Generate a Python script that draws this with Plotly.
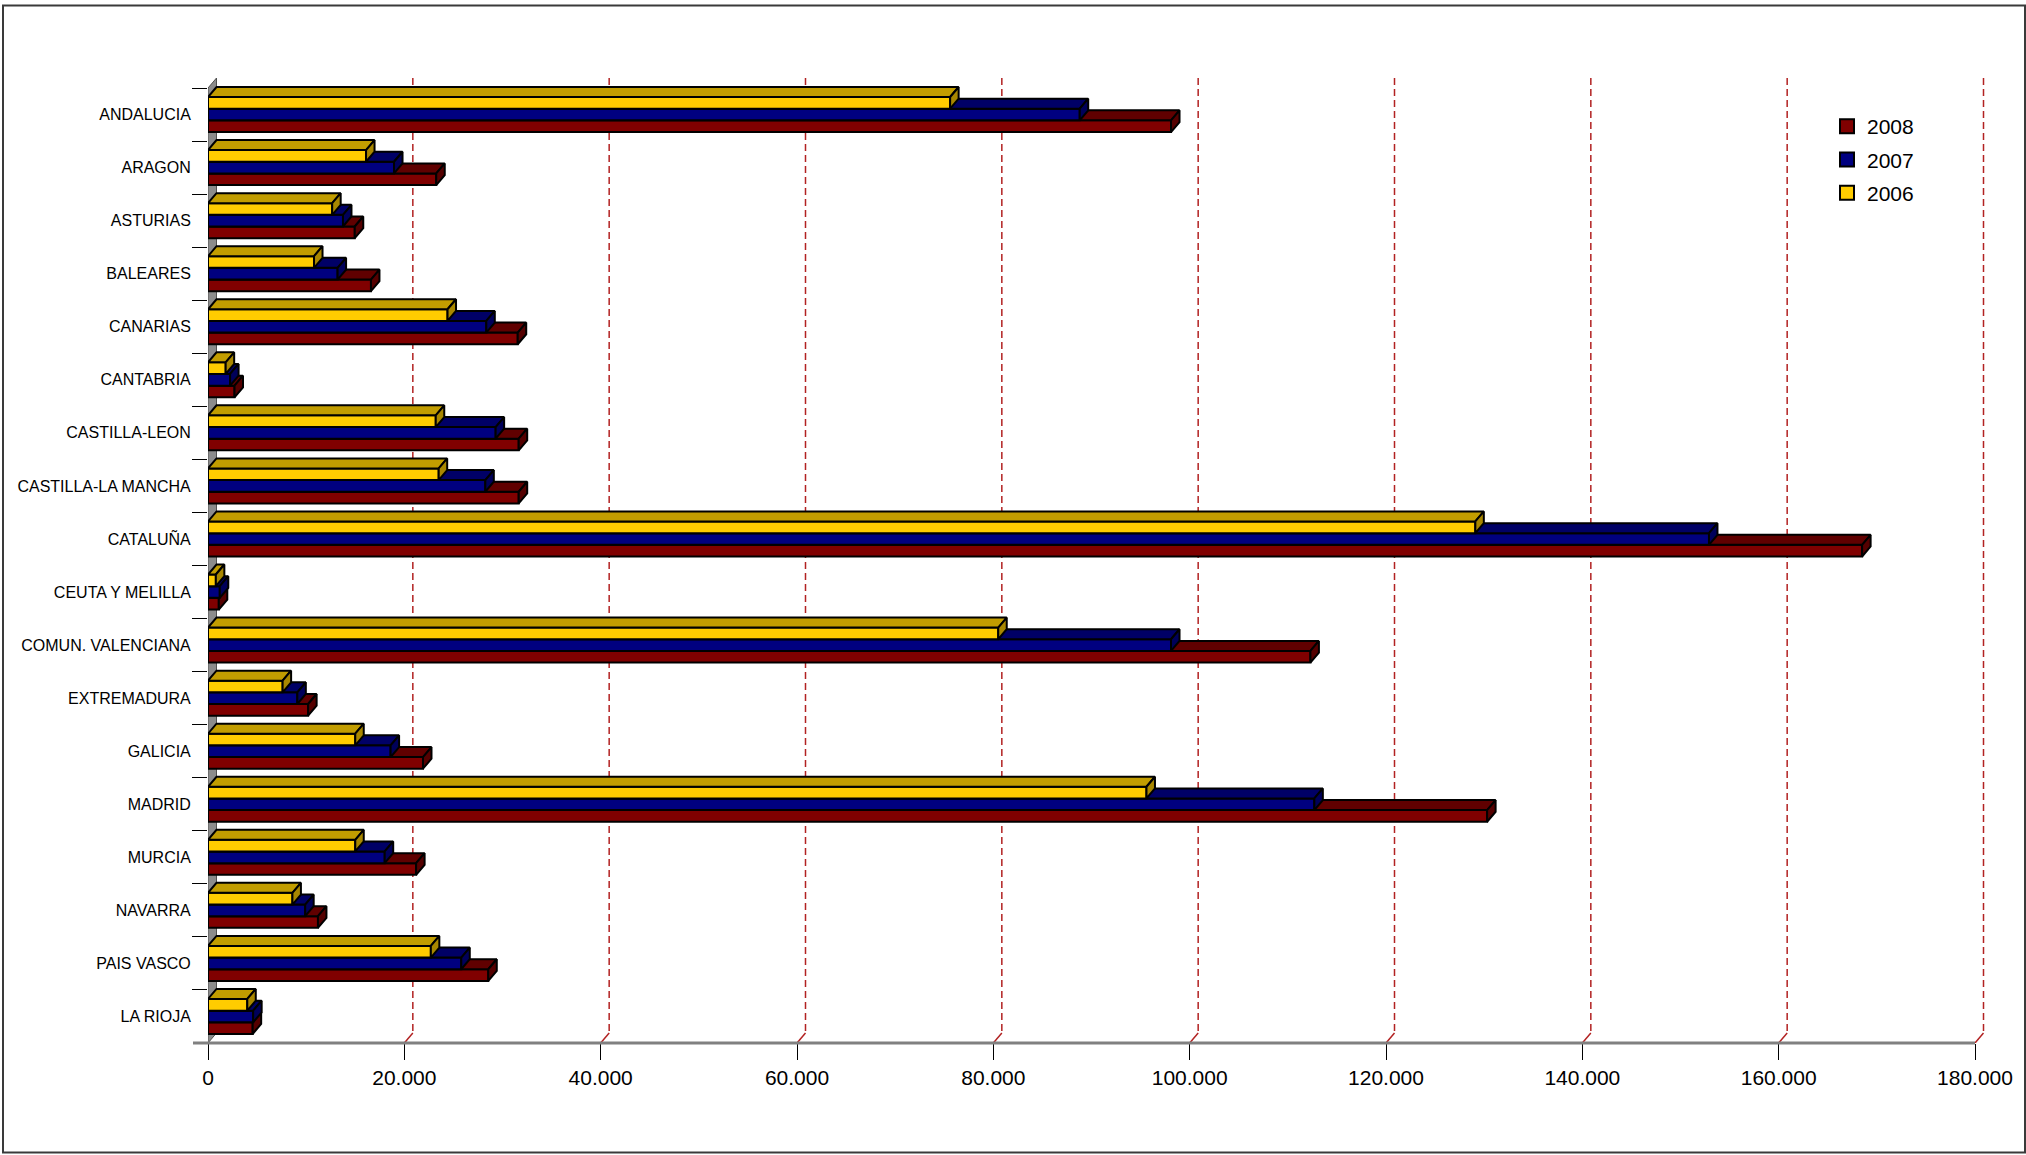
import plotly.graph_objects as go

# ---------------- data ----------------
categories = ["ANDALUCIA", "ARAGON", "ASTURIAS", "BALEARES", "CANARIAS", "CANTABRIA",
              "CASTILLA-LEON", "CASTILLA-LA MANCHA", "CATALUÑA", "CEUTA Y MELILLA",
              "COMUN. VALENCIANA", "EXTREMADURA", "GALICIA", "MADRID", "MURCIA",
              "NAVARRA", "PAIS VASCO", "LA RIOJA"]
years = ["2008", "2007", "2006"]
v2006 = [75600, 16100, 12650, 10800, 24400, 1800, 23200, 23500, 129100, 800,
         80500, 7600, 15000, 95600, 15000, 8600, 22700, 4000]
v2007 = [88800, 18950, 13750, 13200, 28350, 2250, 29300, 28250, 152900, 1200,
         98100, 9100, 18600, 112700, 18000, 9900, 25800, 4600]
v2008 = [98100, 23250, 14950, 16600, 31550, 2700, 31650, 31650, 168500, 1100,
         112300, 10200, 21900, 130300, 21200, 11200, 28550, 4550]
x_tick_values = [0, 20000, 40000, 60000, 80000, 100000, 120000, 140000, 160000, 180000]
x_tick_labels = ["0", "20.000", "40.000", "60.000", "80.000", "100.000",
                 "120.000", "140.000", "160.000", "180.000"]

# ---------------- geometry / style ----------------
W, H = 2026, 1155
PL, PR, PT, PB = 208, 1992, 78, 1043          # plot area in pixels
X_END_PX = 1975                               # pixel of last tick
N = len(categories)
px_per_x = (X_END_PX - PL) / x_tick_values[-1]
DX = 8.5 / px_per_x                           # 3D depth, x units
depth_px = 10.0
px_per_y = (PB - PT - depth_px) / N
DY = depth_px / px_per_y                      # 3D depth, category units
X_RANGE_MAX = (PR - PL) / px_per_x
BAR_H = 0.22


def paper_x(px):
    return (px - PL) / (PR - PL)


def paper_y(py):
    return (PB - py) / (PB - PT)


FONT = "Arial, Liberation Sans, sans-serif"

series = [  # drawn back to front: red, blue, yellow
    (v2008, +0.22, "#800000", "#600000", "#550000"),
    (v2007, 0.0, "#000080", "#000066", "#00005A"),
    (v2006, -0.22, "#FFCC00", "#C29D00", "#A88700"),
]

fig = go.Figure()

# left wall
fig.add_trace(go.Scatter(
    x=[0, 0, DX, DX, 0],
    y=[N - 0.5, -0.5, -0.5 - DY, N - 0.5 - DY, N - 0.5],
    mode="lines", fill="toself", fillcolor="#8C8C8C",
    line=dict(color="#505050", width=1), hoverinfo="skip", showlegend=False))

# gridlines on back wall (dashed) and on floor (slanted)
gx, gy, fx, fy = [], [], [], []
for t in x_tick_values[1:]:
    gx += [t + DX, t + DX, None]
    gy += [-0.5 - DY, N - 0.5 - DY, None]
    fx += [t, t + DX, None]
    fy += [N - 0.5, N - 0.5 - DY, None]
fig.add_trace(go.Scatter(x=gx, y=gy, mode="lines",
                         line=dict(color="#B22222", width=1.5, dash="7px,4px"),
                         hoverinfo="skip", showlegend=False))
fig.add_trace(go.Scatter(x=fx, y=fy, mode="lines",
                         line=dict(color="#B22222", width=1.5),
                         hoverinfo="skip", showlegend=False))


def poly_trace(xs, ys, color):
    return go.Scatter(x=xs, y=ys, mode="lines", fill="toself", fillcolor=color,
                      line=dict(color="black", width=2),
                      hoverinfo="skip", showlegend=False)


for vals, off, c_front, c_top, c_side in series:
    fxs, fys, txs, tys, sxs, sys_ = [], [], [], [], [], []
    for i, v in enumerate(vals):
        y0 = i + off - BAR_H / 2
        y1 = i + off + BAR_H / 2
        fxs += [0, v, v, 0, 0, None]
        fys += [y0, y0, y1, y1, y0, None]
        txs += [0, v, v + DX, DX, 0, None]
        tys += [y0, y0, y0 - DY, y0 - DY, y0, None]
        sxs += [v, v + DX, v + DX, v, v, None]
        sys_ += [y0, y0 - DY, y1 - DY, y1, y0, None]
    fig.add_trace(poly_trace(fxs, fys, c_front))
    fig.add_trace(poly_trace(txs, tys, c_top))
    fig.add_trace(poly_trace(sxs, sys_, c_side))

# legend entries
legend_colors = {"2008": "#800000", "2007": "#000080", "2006": "#FFCC00"}
for k, yr in enumerate(years):
    fig.add_trace(go.Scatter(
        x=[None], y=[None], mode="markers", name=yr, legendgroup=yr,
        marker=dict(symbol="square", size=14, color=legend_colors[yr],
                    line=dict(color="black", width=2))))

fig.update_layout(
    width=W, height=H, autosize=False,
    margin=dict(l=PL, r=W - PR, t=PT, b=H - PB, pad=0),
    paper_bgcolor="white", plot_bgcolor="white",
    font=dict(family=FONT, color="black"),
    showlegend=True,
    legend=dict(x=paper_x(1827), y=paper_y(106), xanchor="left", yanchor="top",
                font=dict(size=21, family=FONT), bgcolor="rgba(0,0,0,0)",
                traceorder="grouped", tracegroupgap=3, itemsizing="trace"),
    xaxis=dict(range=[0, X_RANGE_MAX], tickmode="array", tickvals=x_tick_values,
               ticktext=x_tick_labels, ticks="outside", ticklen=16, tickwidth=1,
               tickcolor="black", showgrid=False, zeroline=False, showline=False,
               tickfont=dict(size=21, family=FONT), fixedrange=True),
    yaxis=dict(range=[N - 0.5, -0.5 - DY], tickmode="array", tickvals=list(range(N)),
               ticktext=categories, ticks="outside", ticklen=13,
               tickcolor="rgba(0,0,0,0)", showgrid=False, zeroline=False,
               showline=False, tickfont=dict(size=16, family=FONT), fixedrange=True,
               minor=dict(tickmode="array", tickvals=[i - 0.5 for i in range(N)],
                          ticks="outside", ticklen=15, tickwidth=1, tickcolor="black",
                          showgrid=False)),
    shapes=[
        dict(type="line", xref="paper", yref="paper",
             x0=paper_x(193), x1=paper_x(X_END_PX), y0=0, y1=0,
             line=dict(color="#808080", width=3), layer="above"),
        dict(type="rect", xref="paper", yref="paper",
             x0=paper_x(3), x1=paper_x(2025), y0=paper_y(5.5), y1=paper_y(1152.5),
             line=dict(color="#3A3A3A", width=2), fillcolor="rgba(0,0,0,0)",
             layer="above"),
    ],
)

fig.write_html("out.html", include_plotlyjs=True,
               config={"displayModeBar": False},
               post_script="document.body.style.margin='0';document.body.style.overflow='hidden';")
